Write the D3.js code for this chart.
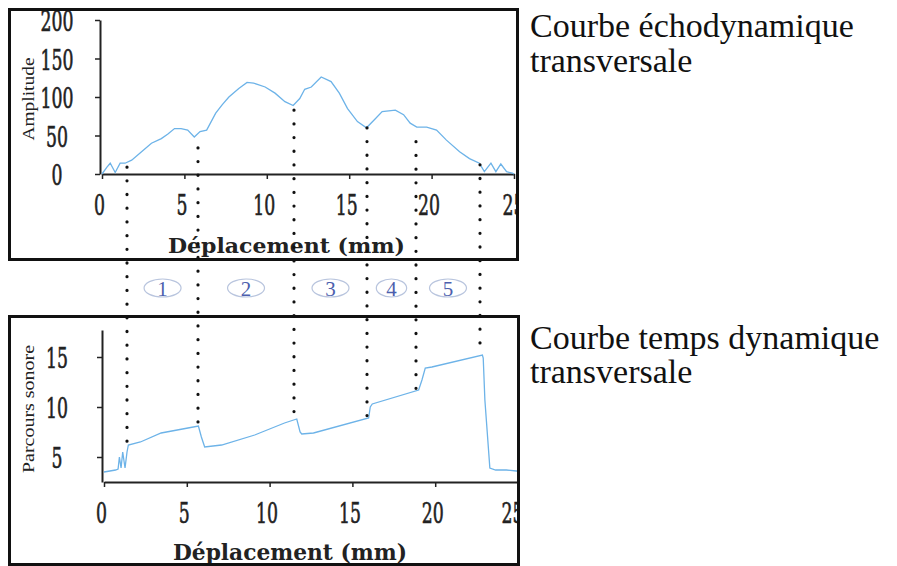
<!DOCTYPE html>
<style>
body { margin: 0; background: #fff; }
.axis .domain { stroke: #222; stroke-width: 2; }
.axis line { stroke: #222; stroke-width: 1.5; }
.axis text { font-family: "DejaVu Serif", serif; font-size: 27px; fill: #222; stroke: #222; stroke-width: 0.6; }
</style>
<svg width="897" height="566"></svg>
<script src="https://d3js.org/d3.v7.min.js"></script>
<script>
// ticks
var xTicks = [0, 5, 10, 15, 20, 25];
var ampTicks = [0, 50, 100, 150, 200];
var sonTicks = [5, 10, 15];

// echodynamic curve : displacement (mm) / amplitude
var ampMm  = [0, 0.3, 0.5, 0.8, 1.1, 1.4, 1.8, 2.4, 3.0, 3.6, 4.0, 4.4, 4.8, 5.2, 5.6, 5.95, 6.35, 6.9, 7.3, 7.7, 8.3, 8.8, 9.2, 9.9, 10.5, 11.1, 11.6, 12.0, 12.3, 12.7, 13.3, 13.9, 14.4, 14.9, 15.5, 16.05, 16.6, 17.0, 17.8, 18.3, 18.7, 19.1, 19.7, 20.3, 20.9, 21.7, 22.3, 22.9, 23.2, 23.6, 23.9, 24.2, 24.55, 24.9, 25];
var ampVal = [0, 9, 14, 2, 14, 14, 18, 29, 40, 46, 52, 59, 59, 57, 48, 55, 57, 79, 90, 100, 111, 119, 118, 113, 105, 94, 89, 98, 110, 113, 126, 120, 105, 85, 68, 60, 72, 81, 83, 77, 66, 61, 61, 57, 44, 29, 20, 14, 3, 14, 3, 13, 3, 1, 0];

// time curve : displacement (mm) / parcours sonore
var sonMm  = [0, 0.7, 0.85, 0.93, 1.03, 1.13, 1.27, 1.39, 1.47, 2.2, 3.45, 5.07, 5.7, 5.88, 6.08, 7.1, 9.1, 10.9, 11.64, 11.84, 11.94, 12.65, 15.98, 16.08, 16.2, 19.0, 19.2, 19.4, 19.8, 22.85, 22.9, 23.0, 23.3, 23.65, 24.3, 24.9, 25.2];
var sonVal = [3.5, 3.7, 3.8, 5.0, 3.9, 5.5, 3.9, 5.5, 6.2, 6.5, 7.4, 7.9, 8.1, 7.0, 6.0, 6.2, 7.2, 8.4, 8.8, 7.5, 7.3, 7.4, 8.9, 10.0, 10.3, 11.7, 12.7, 13.9, 14.0, 15.2, 14.9, 10.7, 3.9, 3.7, 3.7, 3.6, 3.6];

// zone boundaries (mm) with where the dotted lines start / stop
var bounds = [1.52, 5.83, 11.65, 16.08, 19.05, 22.94];
var boundTop = [9, 34, 83, 60, 42, 12];
var boundBottom = [6.2, 8.1, 8.9, 8.9, 11.7, 15.2];
var zones = ["1", "2", "3", "4", "5"];

var svg = d3.select("svg");
svg.append("rect").attr("width", 897).attr("height", 566).attr("fill", "#fff");

var x1 = d3.scaleLinear().domain([0, 25]).range([102, 514]);
var y1 = d3.scaleLinear().domain([0, 200]).range([174, 20]);
var x2 = d3.scaleLinear().domain([0, 25]).range([104, 518]);
var y2 = d3.scaleLinear().domain([2.5, 17.7]).range([482, 330]);

var defs = svg.append("defs");
defs.append("clipPath").attr("id", "clipTop")
  .append("rect").attr("x", 11).attr("y", 11).attr("width", 507).attr("height", 247);
defs.append("clipPath").attr("id", "clipBot")
  .append("rect").attr("x", 11).attr("y", 318).attr("width", 509).attr("height", 245);

function drawPanel(clipId, x, y, yTicks, xAxisY, yAxisX, mm, vals, yTitle, yTitleCy, yTitleLen, titleBase, titleX0, titleX1, titleSize, lastDx) {
  var g = svg.append("g").attr("clip-path", "url(#" + clipId + ")");

  g.append("g")
      .attr("class", "axis")
      .attr("transform", "translate(0," + xAxisY + ")")
      .call(d3.axisBottom(x).tickValues(xTicks).tickSize(5).tickSizeOuter(0))
    .selectAll("text")
      .attr("y", 31)
      .attr("dy", "0.36em")
      .attr("dx", function(d) { return d === 25 ? lastDx : -3; })
      .attr("textLength", function(d) { return String(d).length * 11; })
      .attr("lengthAdjust", "spacingAndGlyphs");

  g.append("g")
      .attr("class", "axis")
      .attr("transform", "translate(" + yAxisX + ",0)")
      .call(d3.axisLeft(y).tickValues(yTicks).tickSize(5).tickSizeOuter(0))
    .selectAll("text")
      .attr("text-anchor", "middle")
      .attr("x", 57 - yAxisX)
      .attr("y", 2)
      .attr("textLength", function(d) { return String(d).length * 11; })
      .attr("lengthAdjust", "spacingAndGlyphs");

  var line = d3.line()
      .x(function(d, i) { return x(mm[i]); })
      .y(function(d) { return y(d); });

  g.append("path")
      .datum(vals)
      .attr("fill", "none")
      .attr("stroke", "#6db3e8")
      .attr("stroke-width", 1.3)
      .attr("d", line);

  g.append("text")
      .attr("transform", "translate(28," + yTitleCy + ") rotate(-90)")
      .attr("text-anchor", "middle")
      .attr("dy", "0.35em")
      .attr("font-family", "Liberation Serif, serif")
      .attr("font-size", 17)
      .attr("fill", "#222")
      .attr("textLength", yTitleLen)
      .attr("lengthAdjust", "spacingAndGlyphs")
      .text(yTitle);

  g.append("text")
      .attr("x", titleX0)
      .attr("y", titleBase)
      .attr("font-family", "DejaVu Serif, serif")
      .attr("font-weight", "bold")
      .attr("font-size", titleSize)
      .attr("fill", "#222")
      .attr("textLength", titleX1 - titleX0)
      .attr("lengthAdjust", "spacingAndGlyphs")
      .text("Déplacement (mm)");
}

drawPanel("clipTop", x1, y1, ampTicks, 174, 100, ampMm, ampVal, "Amplitude", 99, 83, 253, 168, 405, 21, -1);
drawPanel("clipBot", x2, y2, sonTicks, 482, 102, sonMm, sonVal, "Parcours sonore", 409, 128, 560, 173, 407, 22, -6);

// frames
svg.append("rect").attr("x", 9.5).attr("y", 9.5).attr("width", 508).attr("height", 250)
  .attr("fill", "none").attr("stroke", "#111").attr("stroke-width", 3);
svg.append("rect").attr("x", 9.5).attr("y", 316.5).attr("width", 509).attr("height", 248)
  .attr("fill", "none").attr("stroke", "#111").attr("stroke-width", 3);

// dotted zone boundaries linking both curves
svg.append("g")
  .selectAll("line")
  .data(bounds)
  .enter().append("line")
    .attr("x1", function(d) { return Math.round(x1(d)); })
    .attr("x2", function(d) { return Math.round(x1(d)); })
    .attr("y1", function(d, i) { return y1(boundTop[i]); })
    .attr("y2", function(d, i) { return y2(boundBottom[i]); })
    .attr("stroke", "#111")
    .attr("stroke-width", 3.2)
    .attr("stroke-linecap", "round")
    .attr("stroke-dasharray", "0.1 13.6");

// numbered zones between the two panels
var zone = svg.append("g")
  .selectAll("g")
  .data(zones)
  .enter().append("g")
    .attr("transform", function(d, i) {
      return "translate(" + (x1(bounds[i]) + x1(bounds[i + 1])) / 2 + ",288)";
    });

zone.append("ellipse")
    .attr("rx", function(d, i) { return Math.min(18.5, (x1(bounds[i + 1]) - x1(bounds[i])) * 0.31); })
    .attr("ry", 9)
    .attr("fill", "none")
    .attr("stroke", "#b9c5de")
    .attr("stroke-width", 1.2);

zone.append("text")
    .attr("text-anchor", "middle")
    .attr("dy", "0.36em")
    .attr("font-family", "Liberation Serif, serif")
    .attr("font-size", 21)
    .attr("fill", "#4d5fae")
    .text(function(d) { return d; });

// captions on the right
var captions = [["Courbe échodynamique", 37], ["transversale", 72], ["Courbe temps dynamique", 349], ["transversale", 383]];
svg.append("g")
  .selectAll("text")
  .data(captions)
  .enter().append("text")
    .attr("x", 530)
    .attr("y", function(d) { return d[1]; })
    .attr("font-family", "Liberation Serif, serif")
    .attr("font-size", 34)
    .attr("fill", "#111")
    .text(function(d) { return d[0]; });
</script>
